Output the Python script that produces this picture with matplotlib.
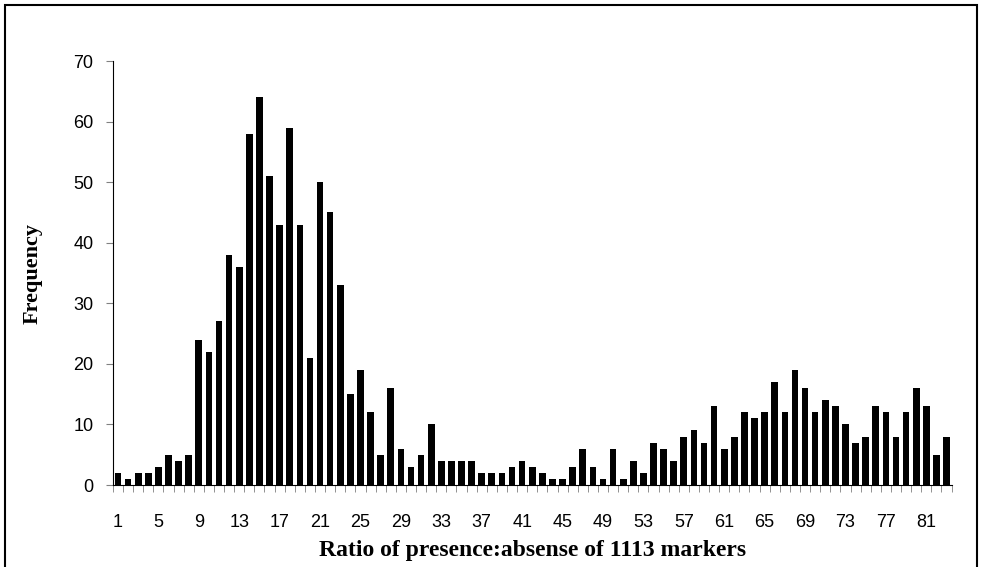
import numpy as np
import matplotlib.pyplot as plt
from matplotlib.patches import Rectangle

# ratio categories 1..83 and their counts
ratio = list(range(1, 84))
freq = [2, 1, 2, 2, 3, 5, 4, 5, 24, 22,
        27, 38, 36, 58, 64, 51, 43, 59, 43, 21,
        50, 45, 33, 15, 19, 12, 5, 16, 6, 3,
        5, 10, 4, 4, 4, 4, 2, 2, 2, 3,
        4, 3, 2, 1, 1, 3, 6, 3, 1, 6,
        1, 4, 2, 7, 6, 4, 8, 9, 7, 13,
        6, 8, 12, 11, 12, 17, 12, 19, 16, 12,
        14, 13, 10, 7, 8, 13, 12, 8, 12, 16,
        13, 5, 8]
xtick_labels = list(range(1, 84, 4))
yticks = list(range(0, 71, 10))

fig = plt.figure(figsize=(9.82, 5.67), dpi=100)
ax = fig.add_axes([0.115, 0.1446, 0.854, 0.7478])

ax.bar(ratio, freq, width=0.66, color='black')

ax.set_xlim(0.5, 83.5)
ax.set_ylim(0, 70)

ax.set_xticks(xtick_labels)
ax.set_xticklabels([str(v) for v in xtick_labels], fontsize=13, family='Liberation Sans')
ax.tick_params(axis='x', which='major', length=0, pad=21)
ax.set_xticks(np.arange(0.5, 84, 1), minor=True)
ax.tick_params(axis='x', which='minor', length=5, color='#808080', direction='out')

ax.set_yticks(yticks)
ax.set_yticklabels([str(v) for v in yticks], fontsize=13, family='Liberation Sans')
ax.tick_params(axis='y', length=5, color='#808080', pad=9)

for s in ['top', 'right']:
    ax.spines[s].set_visible(False)
ax.spines['left'].set_color('black')
ax.spines['bottom'].set_color('black')

ax.set_xlabel('Ratio of presence:absense of 1113 markers', fontsize=17,
              fontweight='bold', family='Liberation Serif', labelpad=6)
ax.set_ylabel('Frequency', fontsize=16, fontweight='bold',
              family='Liberation Serif', labelpad=22)

# outer frame, bottom edge runs off the image
fig.add_artist(Rectangle((5 / 982, -0.1), 972 / 982, 1.1 - 5 / 567,
                         transform=fig.transFigure, fill=False,
                         edgecolor='black', linewidth=1.5))

fig.savefig('out.png', dpi=100)
